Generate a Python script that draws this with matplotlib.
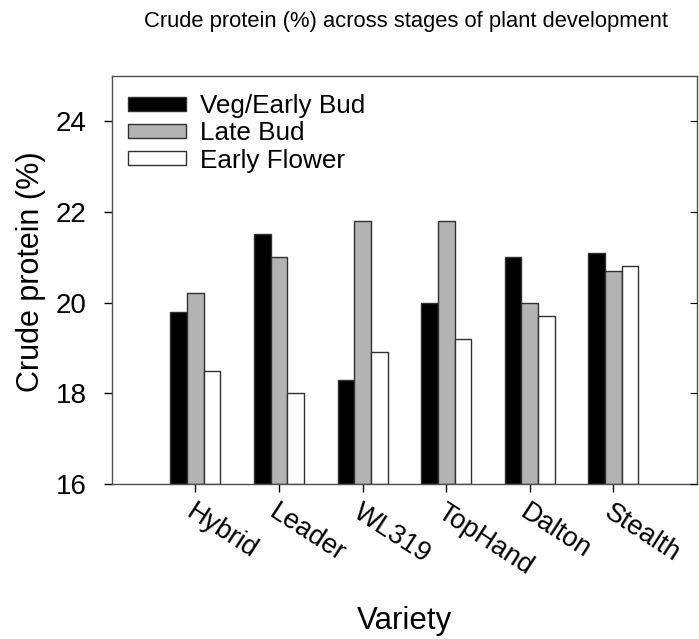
#!/usr/bin/env python3

import numpy as np
import matplotlib
matplotlib.use('Agg')
import matplotlib.pyplot as plt

plt.rcParams['font.family'] = ['Liberation Sans', 'DejaVu Sans']

varieties = ['Hybrid', 'Leader', 'WL319', 'TopHand', 'Dalton', 'Stealth']
veg_early_bud = [19.8, 21.5, 18.3, 20.0, 21.0, 21.1]
late_bud = [20.2, 21.0, 21.8, 21.8, 20.0, 20.7]
early_flower = [18.5, 18.0, 18.9, 19.2, 19.7, 20.8]

series = [('Veg/Early Bud', veg_early_bud, 'black'),
          ('Late Bud', late_bud, '#b3b3b3'),
          ('Early Flower', early_flower, 'white')]

fig = plt.figure(figsize=(6.99, 6.39), dpi=100)
ax = fig.add_axes([0.160, 0.2426, 0.837, 0.639])

x = np.arange(len(varieties))
w = 0.2
for i, (name, vals, col) in enumerate(series):
    ax.bar(x + (i - 1) * w, np.array(vals) - 16, w, bottom=16, color=col,
           edgecolor='#303030', linewidth=1.0, label=name)

ax.set_xlim(-1, 6)
ax.set_ylim(16, 25)
ax.set_yticks([16, 18, 20, 22, 24])
ax.set_xticks(x)
ax.set_xticklabels(varieties, rotation=-33, ha='left', rotation_mode='anchor',
                   fontsize=19.5)
ax.tick_params(axis='y', labelsize=20, length=6, direction='out', width=1, pad=12)
ax.tick_params(axis='x', length=6, direction='out', width=1, pad=5)
for s in ax.spines.values():
    s.set_color('#505050')
    s.set_linewidth(1.0)

# inward ticks on the right spine
ax2 = ax.twinx()
ax2.set_ylim(ax.get_ylim())
ax2.set_yticks([16, 18, 20, 22, 24])
ax2.tick_params(axis='y', direction='in', length=5, labelright=False)
for s in ax2.spines.values():
    s.set_visible(False)

ax.set_ylabel('Crude protein (%)', fontsize=22)
ax.yaxis.set_label_coords(-0.112, 0.52)
ax.set_xlabel('Variety', fontsize=22.5)
ax.xaxis.set_label_coords(0.5, -0.30)

fig.text(0.581, 1 - 22 / 639, 'Crude protein (%) across stages of plant development',
         fontsize=15.8, ha='center', va='center')

ax.legend(loc='upper left', frameon=False, fontsize=18.8, handlelength=2.2,
          handleheight=0.45, handletextpad=0.55, labelspacing=0.12,
          borderaxespad=0.0, bbox_to_anchor=(0.01, 0.98))

plt.savefig('out.png', dpi=100)
